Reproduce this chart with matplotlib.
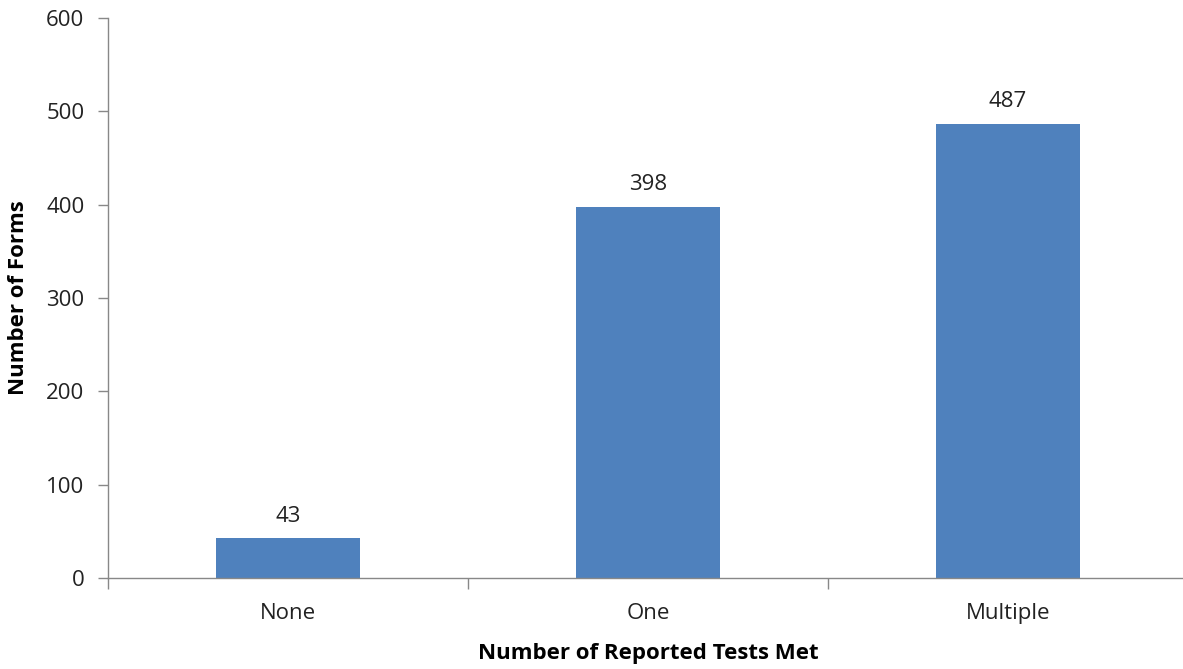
import matplotlib
matplotlib.use("Agg")
import matplotlib.pyplot as plt

categories = ["None", "One", "Multiple"]
counts = [43, 398, 487]
yticks = [0, 100, 200, 300, 400, 500, 600]

plt.rcParams['font.family'] = ['Open Sans', 'DejaVu Sans']

fig = plt.figure(figsize=(11.83, 6.69), dpi=100)
ax = fig.add_axes([0.0913, 0.136, 0.913, 0.837])

bars = ax.bar(range(len(categories)), counts, width=0.4, color="#4F81BD", zorder=2)
for i, v in enumerate(counts):
    ax.text(i, v + 12, str(v), ha="center", va="bottom", fontsize=16, color="#222222")

ax.set_xlim(-0.5, 2.5)
ax.set_ylim(0, 600)
ax.set_yticks(yticks)
ax.set_xticks(range(len(categories)))
ax.set_xticklabels(categories)
# category boundary ticks like Excel
ax.set_xticks([-0.5, 0.5, 1.5, 2.5], minor=True)
ax.tick_params(axis="x", which="major", length=0, pad=18, labelsize=16, labelcolor="#222222")
ax.tick_params(axis="x", which="minor", length=8, color="#888888", width=1)
ax.tick_params(axis="y", length=7, color="#888888", width=1, pad=10, labelsize=16, labelcolor="#222222")

for s in ["top", "right"]:
    ax.spines[s].set_visible(False)
for s in ["left", "bottom"]:
    ax.spines[s].set_color("#888888")
    ax.spines[s].set_linewidth(1)

ax.set_xlabel("Number of Reported Tests Met", fontsize=16, fontweight="bold", labelpad=14)
ax.set_ylabel("Number of Forms", fontsize=16, fontweight="bold", labelpad=12)

fig.savefig("out.png", dpi=100)
